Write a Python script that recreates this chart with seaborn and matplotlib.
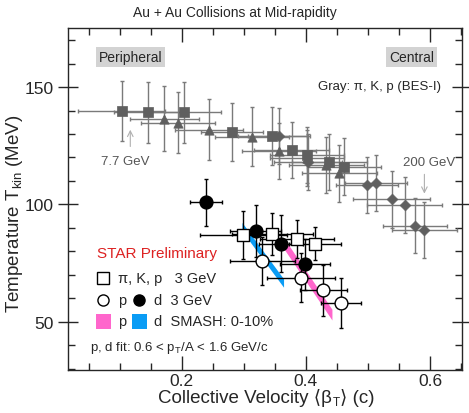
import numpy as np
import pandas as pd
import matplotlib
matplotlib.use("Agg")
import matplotlib.pyplot as plt
import seaborn as sns
from matplotlib.patches import Rectangle
from matplotlib.ticker import MultipleLocator

# BES-I gray points (pi, K, p)
bes_sq_x = [0.103, 0.145, 0.203, 0.281, 0.346, 0.377, 0.402, 0.438, 0.461]
bes_sq_y = [139.9, 139.2, 139.2, 130.9, 129.2, 123.1, 121.1, 118.1, 116.1]
bes_sq_xerr = [0.070, 0.055, 0.060, 0.050, 0.055, 0.060, 0.060, 0.060, 0.060]
bes_sq_yerr = [12.9, 13.0, 13.0, 12.5, 12.5, 12.0, 12.0, 12.0, 12.0]

bes_tri_x = [0.172, 0.194, 0.244, 0.313, 0.357, 0.402, 0.433, 0.454]
bes_tri_y = [136.6, 134.9, 131.8, 128.9, 122.8, 119.9, 116.8, 113.2]
bes_tri_xerr = [0.056, 0.059, 0.055, 0.060, 0.060, 0.060, 0.060, 0.060]
bes_tri_yerr = [14.0, 13.0, 13.0, 12.5, 12.0, 12.0, 12.0, 12.0]

bes_dia_x = [0.356, 0.403, 0.498, 0.513, 0.538, 0.559, 0.576, 0.591]
bes_dia_y = [129.2, 118.1, 108.3, 109.0, 102.1, 99.6, 91.0, 89.0]
bes_dia_xerr = [0.050, 0.055, 0.050, 0.050, 0.062, 0.061, 0.052, 0.052]
bes_dia_yerr = [12.0, 12.0, 11.9, 11.9, 12.0, 12.0, 11.7, 12.0]

# 3 GeV: pi, K, p (open squares)
sq3_x = [0.299, 0.346, 0.386, 0.415]
sq3_y = [86.8, 87.5, 85.3, 83.2]
sq3_xerr = [0.070, 0.065, 0.060, 0.042]
sq3_yerr = [10.2, 8.9, 8.0, 7.0]

# 3 GeV: protons (open circles)
p3_x = [0.330, 0.392, 0.428, 0.457]
p3_y = [75.8, 68.7, 63.4, 58.0]
p3_xerr = [0.053, 0.055, 0.038, 0.032]
p3_yerr = [10.3, 10.5, 10.9, 10.7]

# 3 GeV: deuterons (filled circles)
d3_x = [0.239, 0.319, 0.360, 0.399]
d3_y = [101.0, 88.6, 83.3, 74.4]
d3_xerr = [0.025, 0.041, 0.035, 0.040]
d3_yerr = [10.0, 11.2, 12.0, 11.0]

# SMASH 0-10% bands
smash_p_x = [0.364, 0.442]
smash_p_y = [83.6, 53.0]
smash_p_hw = 2.3
smash_d_x = [0.297, 0.364]
smash_d_y = [90.5, 66.5]
smash_d_hw = 1.8

sns.set_style("ticks")
plt.rcParams["font.family"] = ["Liberation Sans", "DejaVu Sans"]
plt.rcParams["mathtext.fontset"] = "custom"
plt.rcParams["mathtext.rm"] = "Liberation Sans"
plt.rcParams["mathtext.it"] = "Liberation Sans:italic"

fig = plt.figure(figsize=(4.69, 4.14), dpi=100)
ax = fig.add_axes([68 / 469, 43 / 414, 394 / 469, 342 / 414])

gray_dark = "#5f5f5f"
gray_bar = "#7a7a7a"

# bands
sx = np.array(smash_d_x); sy = np.array(smash_d_y)
ax.fill_between(sx, sy - smash_d_hw, sy + smash_d_hw, color="#0a9cf5", lw=0, zorder=2)
px = np.array(smash_p_x); py = np.array(smash_p_y)
ax.fill_between(px, py - smash_p_hw, py + smash_p_hw, color="#ff66cc", lw=0, zorder=2)

# gray BES-I
for xs, ys, xe, ye, mk in [
    (bes_sq_x, bes_sq_y, bes_sq_xerr, bes_sq_yerr, "s"),
    (bes_tri_x, bes_tri_y, bes_tri_xerr, bes_tri_yerr, "^"),
    (bes_dia_x, bes_dia_y, bes_dia_xerr, bes_dia_yerr, "D"),
]:
    ax.errorbar(xs, ys, xerr=xe, yerr=ye, fmt="none", ecolor=gray_bar,
                elinewidth=1.0, capsize=1.5, zorder=1)
    df = pd.DataFrame({"x": xs, "y": ys})
    ms = 45 if mk != "D" else 30
    sns.scatterplot(data=df, x="x", y="y", marker=mk, s=ms, color=gray_dark,
                    edgecolor=gray_dark, linewidth=0.5, ax=ax, zorder=3)

# 3 GeV data
for xs, ys, xe, ye in [(sq3_x, sq3_y, sq3_xerr, sq3_yerr),
                       (p3_x, p3_y, p3_xerr, p3_yerr),
                       (d3_x, d3_y, d3_xerr, d3_yerr)]:
    ax.errorbar(xs, ys, xerr=xe, yerr=ye, fmt="none", ecolor="black",
                elinewidth=1.0, capsize=1.5, zorder=4)

sns.scatterplot(x=sq3_x, y=sq3_y, marker="s", s=80, facecolor="white",
                edgecolor="black", linewidth=1.0, ax=ax, zorder=5)
sns.scatterplot(x=p3_x, y=p3_y, marker="o", s=85, facecolor="white",
                edgecolor="black", linewidth=1.0, ax=ax, zorder=5)
sns.scatterplot(x=d3_x, y=d3_y, marker="o", s=85, color="black",
                edgecolor="black", linewidth=1.0, ax=ax, zorder=5)

ax.set_xlim(0.0166, 0.6516)
ax.set_ylim(29.4, 175.2)
ax.xaxis.set_major_locator(MultipleLocator(0.2))
ax.xaxis.set_minor_locator(MultipleLocator(0.05))
ax.yaxis.set_major_locator(MultipleLocator(50))
ax.yaxis.set_minor_locator(MultipleLocator(10))
ax.tick_params(which="both", top=True, right=True, direction="in",
               labelsize=12.5, width=1.0)
ax.tick_params(axis="y", which="major", direction="inout", length=14)
ax.tick_params(axis="x", which="major", length=10, pad=2)
ax.tick_params(which="minor", length=5)
for s in ax.spines.values():
    s.set_linewidth(1.0)
ax.set_xlabel("")

# x label built from pieces: Collective Velocity <beta_T> (c)
xl1 = fig.text(158 / 469, 0.018, "Collective Velocity \u27e8\u03b2", fontsize=13.5,
               va="bottom", ha="left")
xl2 = ax.annotate("T", xy=(1, 0), xycoords=xl1, xytext=(0.3, -2), textcoords="offset points",
                  fontsize=8.5, va="bottom", ha="left", annotation_clip=False)
xl3 = ax.annotate("\u27e9 (c)", xy=(1, 0), xycoords=xl2, xytext=(0.3, 2),
                  textcoords="offset points", fontsize=13.5, va="bottom", ha="left",
                  annotation_clip=False)

ax.set_ylabel("Temperature T$_{\\rm kin}$ (MeV)", fontsize=13.5)
ax.yaxis.set_label_coords(-0.108, 0.46)
fig.text(0.5, 1 - 13 / 414, "Au + Au Collisions at Mid-rapidity", ha="center",
         va="center", fontsize=10)

box = dict(boxstyle="square,pad=0.2", fc="#d3d3d3", ec="none")
ax.text(0.117, 162.8, "Peripheral", ha="center", va="center", fontsize=10, bbox=box)
ax.text(0.570, 162.8, "Central", ha="center", va="center", fontsize=10, bbox=box)
ax.text(0.617, 150.4, "Gray: π, K, p (BES-I)", ha="right", va="center", fontsize=9.5)

ax.annotate("", xy=(0.117, 133.0), xytext=(0.117, 123.5),
            arrowprops=dict(arrowstyle="->", color="#b0b0b0", lw=0.8))
ax.text(0.109, 118.4, "7.7 GeV", ha="center", va="center", fontsize=9.5, color="#555555")
ax.annotate("", xy=(0.591, 103.4), xytext=(0.591, 114.0),
            arrowprops=dict(arrowstyle="->", color="#b0b0b0", lw=0.8))
ax.text(0.599, 118.0, "200 GeV", ha="center", va="center", fontsize=9.5, color="#555555")

# manual legend
T = ax.transAxes
ax.text(0.0736, 0.342, "STAR Preliminary", transform=T, ha="left", va="center",
        fontsize=11, color="#dd2222")
ax.plot([0.0888], [0.269], "s", ms=8, mfc="white", mec="black", mew=1.0, transform=T)
ax.text(0.127, 0.269, "π, K, p   3 GeV", transform=T, ha="left", va="center", fontsize=10.5)
ax.plot([0.0888], [0.205], "o", ms=8, mfc="white", mec="black", mew=1.0, transform=T)
ax.text(0.127, 0.205, "p", transform=T, ha="left", va="center", fontsize=10.5)
ax.plot([0.180], [0.205], "o", ms=8, color="black", transform=T)
ax.text(0.218, 0.205, "d  3 GeV", transform=T, ha="left", va="center", fontsize=10.5)
ax.add_patch(Rectangle((28 / 394, 0.121), 15 / 394, 15 / 342, transform=T,
                       color="#ff66cc", lw=0))
ax.text(0.127, 0.143, "p", transform=T, ha="left", va="center", fontsize=10.5)
ax.add_patch(Rectangle((64 / 394, 0.121), 15 / 394, 15 / 342, transform=T,
                       color="#0a9cf5", lw=0))
ax.text(0.218, 0.143, "d  SMASH: 0-10%", transform=T, ha="left", va="center", fontsize=10.5)
ax.text(0.0558, 0.067, "p, d fit: 0.6 < p$_{\\rm T}$/A < 1.6 GeV/c", transform=T,
        ha="left", va="center", fontsize=9.5)

fig.savefig("out.png", dpi=100)
